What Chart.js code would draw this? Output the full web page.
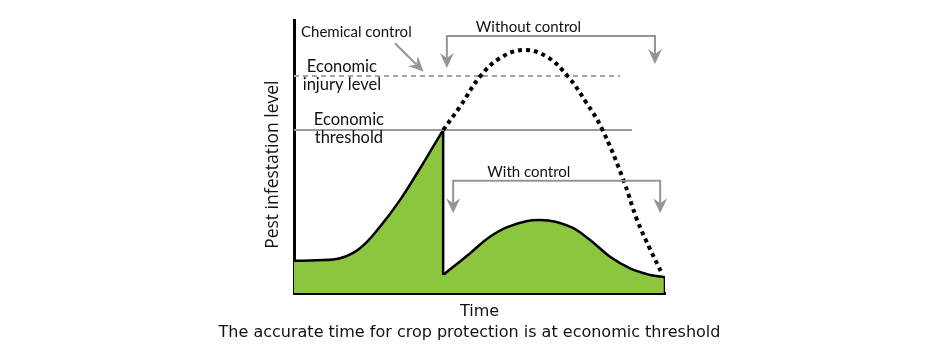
<!DOCTYPE html>
<html>
<head>
<meta charset="utf-8">
<script src="https://cdn.jsdelivr.net/npm/chart.js@4.4.0/dist/chart.umd.min.js"></script>
<style>
  body { margin: 0; background: #fff; }
  canvas { display: block; }
</style>
</head>
<body>
<canvas id="pestChart" width="940" height="362"></canvas>
<script>
// time runs 0..100 along x, pest level 0..100 up the y axis
const beforeX = [0, 6, 12.4, 17.8, 23.2, 28.6, 34, 37.5, 40.2];
const beforeY = [11.8, 12.0, 12.7, 16.4, 24.3, 34.1, 45.7, 53.6, 59.7];

const withX = [40.2, 47.4, 52.8, 58.2, 66.3, 74.4, 79.8, 85.2, 90.6, 96, 100];
const withY = [6.6, 14.5, 20.6, 24.5, 26.7, 24.3, 19.4, 13.3, 9.0, 6.6, 5.8];

const withoutX = [40.2, 44.7, 50.1, 55.5, 61.8, 68.1, 73.9, 78.9, 82.9, 88.8, 92.4, 96, 99.3];
const withoutY = [59.7, 68.2, 79.2, 86.0, 89.0, 86.6, 79.2, 69.5, 60.5, 41.4, 27.0, 16.0, 6.8];

const dropX = [40.2, 40.2, 40.2];
const dropY = [59.7, 6.6, 0];
const edgeX = [100, 100];
const edgeY = [5.8, 0];

const injuryX = [0, 87.9];
const injuryY = [79.5, 79.5];
const thresholdX = [0, 91.1];
const thresholdY = [59.7, 59.7];

const caption = "The accurate time for crop protection is at economic threshold";

const GREEN = "#8cc63f";
const GRAY = "#959595";
const FONT = "Lato, 'Open Sans', sans-serif";
const CAPTION_FONT = "'DejaVu Sans', sans-serif";

const pts = (xs, ys) => xs.map((x, i) => ({ x: x, y: ys[i] }));

function arrowHead(ctx, tx, ty, angle) {
  ctx.save();
  ctx.translate(tx, ty);
  ctx.rotate(angle);
  ctx.beginPath();
  ctx.moveTo(0, 0);
  ctx.lineTo(-15, -7);
  ctx.lineTo(-10, 0);
  ctx.lineTo(-15, 7);
  ctx.closePath();
  ctx.fill();
  ctx.restore();
}

const notes = {
  id: "notes",
  afterDraw(chart) {
    const { ctx, chartArea, scales: { x, y } } = chart;
    const px = v => x.getPixelForValue(v);
    const py = v => y.getPixelForValue(v);
    ctx.save();
    ctx.strokeStyle = GRAY;
    ctx.fillStyle = GRAY;
    ctx.lineWidth = 2;

    // brackets: without control (top) and with control (middle)
    const brackets = [
      { left: 41.2, right: 97.3, bar: 94.1, tipL: 82.4, tipR: 83.9 },
      { left: 42.9, right: 98.7, bar: 41.1, tipL: 29.2, tipR: 29.2 }
    ];
    brackets.forEach(b => {
      ctx.beginPath();
      ctx.moveTo(px(b.left), py(b.tipL) - 10);
      ctx.lineTo(px(b.left), py(b.bar));
      ctx.lineTo(px(b.right), py(b.bar));
      ctx.lineTo(px(b.right), py(b.tipR) - 10);
      ctx.stroke();
      arrowHead(ctx, px(b.left), py(b.tipL), Math.PI / 2);
      arrowHead(ctx, px(b.right), py(b.tipR), Math.PI / 2);
    });

    // chemical control pointer
    const x0 = px(27.2), y0 = py(91.5), x1 = px(34.9), y1 = py(81.1);
    const ang = Math.atan2(y1 - y0, x1 - x0);
    ctx.beginPath();
    ctx.moveTo(x0, y0);
    ctx.lineTo(x1 - 10 * Math.cos(ang), y1 - 10 * Math.sin(ang));
    ctx.stroke();
    arrowHead(ctx, x1, y1, ang);

    // text labels
    ctx.fillStyle = "#111";
    ctx.textBaseline = "middle";
    ctx.font = "15px " + FONT;
    ctx.textAlign = "left";
    ctx.fillText("Chemical control", px(1.9), py(95.6));
    ctx.textAlign = "center";
    ctx.fillText("Without control", px(63.2), py(97.5));
    ctx.fillText("With control", px(63.3), py(44.3));
    ctx.font = "16.5px " + FONT;
    ctx.fillText("Economic", px(12.9), py(82.8));
    ctx.fillText("injury level", px(12.9), py(76.2));
    ctx.fillText("Economic", px(14.8), py(63.4));
    ctx.fillText("threshold", px(14.8), py(56.8));

    // y axis title
    ctx.save();
    ctx.translate(chartArea.left - 21, py(47));
    ctx.rotate(-Math.PI / 2);
    ctx.font = "17.5px 'Open Sans', sans-serif";
    ctx.fillText("Pest infestation level", 0, 0);
    ctx.restore();

    // caption under the time axis
    ctx.font = "16px " + CAPTION_FONT;
    ctx.fillText(caption, (chartArea.left + chartArea.right) / 2 - 10, chartArea.bottom + 40.3);
    ctx.restore();
  }
};

new Chart(document.getElementById("pestChart"), {
  type: "line",
  data: {
    datasets: [
      {
        data: pts(withoutX, withoutY),
        borderColor: "#000",
        borderWidth: 4,
        borderDash: [4, 4],
        tension: 0.4,
        fill: false
      },
      {
        data: pts(injuryX, injuryY),
        borderColor: "#a5a5a5",
        borderWidth: 2,
        borderDash: [5, 4],
        fill: false
      },
      {
        data: pts(thresholdX, thresholdY),
        borderColor: "#9a9a9a",
        borderWidth: 2,
        fill: false
      },
      {
        // vertical drop at the moment of spraying; green below the low point
        data: pts(dropX, dropY),
        borderColor: "#000",
        borderWidth: 2.5,
        segment: { borderColor: c => (c.p0DataIndex === 1 ? GREEN : "#000") },
        fill: false
      },
      {
        data: pts(edgeX, edgeY),
        borderColor: "#000",
        borderWidth: 2.5,
        fill: false
      },
      {
        data: pts(beforeX, beforeY),
        borderColor: "#000",
        borderWidth: 2.5,
        backgroundColor: GREEN,
        tension: 0.4,
        fill: "origin"
      },
      {
        data: pts(withX, withY),
        borderColor: "#000",
        borderWidth: 2.5,
        backgroundColor: GREEN,
        tension: 0.4,
        fill: "origin"
      }
    ]
  },
  options: {
    responsive: false,
    animation: false,
    layout: { padding: { left: 294, right: 275, top: 20, bottom: 40.8 } },
    elements: { point: { radius: 0 } },
    scales: {
      x: {
        type: "linear",
        min: 0,
        max: 100,
        z: 1,
        grid: { display: false, drawTicks: false },
        ticks: { display: false },
        border: { color: "#000", width: 3 },
        title: {
          display: true,
          text: "Time",
          color: "#111",
          font: { family: CAPTION_FONT, size: 16 },
          padding: { top: 9, bottom: 0 }
        }
      },
      y: {
        min: 0,
        max: 100,
        z: 1,
        grid: { display: false, drawTicks: false },
        ticks: { display: false },
        border: { color: "#000", width: 3 }
      }
    },
    plugins: {
      legend: { display: false },
      tooltip: { enabled: false }
    }
  },
  plugins: [notes]
});
</script>
</body>
</html>
